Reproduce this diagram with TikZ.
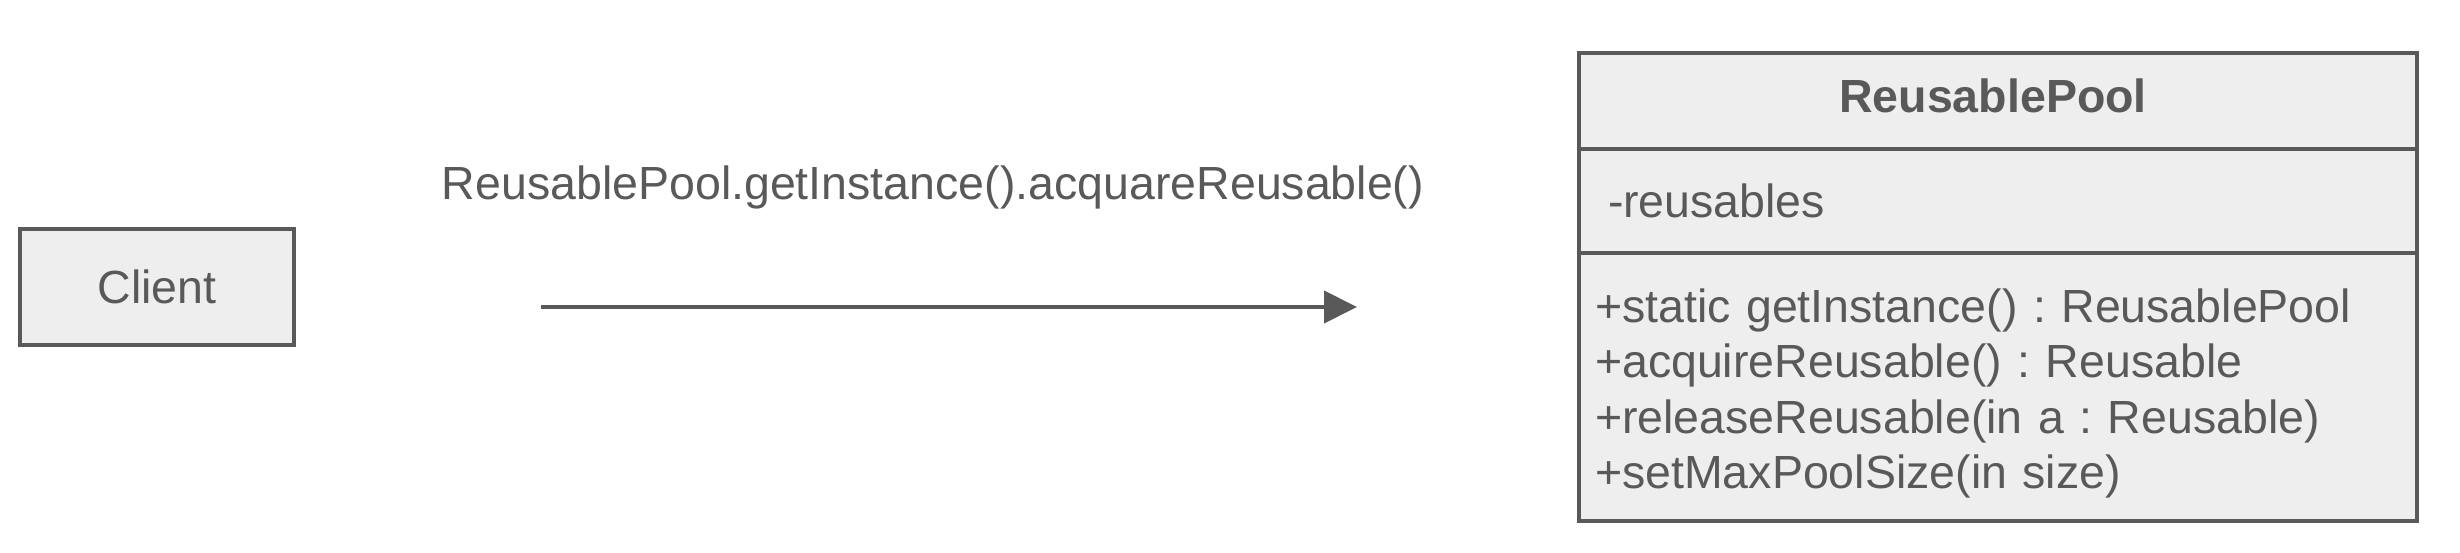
\documentclass[tikz,border=0pt]{standalone}
\usepackage{fontspec}
\setmainfont{Liberation Sans}
\usepackage{xcolor}
\definecolor{colorLine}{HTML}{595959}
\definecolor{colorFill}{HTML}{EEEEEE}
\usetikzlibrary{arrows.meta, positioning}
\tikzset{
  umlbox/.style={draw=colorLine, fill=colorFill, line width=4pt, inner sep=0pt, outer sep=0pt, text=colorLine},
  umltext/.style={text=colorLine, font=\frenchspacing\fontsize{46.5}{55.5}\selectfont}
}

\begin{document}
\begin{tikzpicture}[x=1pt, y=1pt, >={Triangle[length=33pt, width=32pt]}, every node/.style={umltext}]
\useasboundingbox (0,0) rectangle (2460,552);
\node[umlbox, minimum width=274pt, minimum height=116pt] (client) at (157,265) {Client};
\node[umlbox, anchor=north west, minimum width=838pt, minimum height=96pt, font=\bfseries\fontsize{46.5}{55.5}\selectfont] (pooltitle) at (1579,499) {\hspace*{-10pt}ReusablePool\rule[-10pt]{0pt}{10pt}};
\node[umlbox, below=0pt of pooltitle, minimum width=838pt, minimum height=104pt, text width=780pt, align=left] (poolattr) {-reusables};
\node[umlbox, below=0pt of poolattr, minimum width=838pt, minimum height=268pt, text width=806pt, align=left] (poolops) {\rule{0pt}{47pt}+static getInstance() : ReusablePool\\+acquireReusable() : Reusable\\+releaseReusable(in a : Reusable)\\+setMaxPoolSize(in size)};
\coordinate (callstart) at (541,245);
\coordinate (callend) at (1357,245);
\draw[->, colorLine, line width=4pt] (callstart) -- (callend);
\node (calllabel) at (933,365) {ReusablePool.getInstance().acquareReusable()};
\end{tikzpicture}
\end{document}
